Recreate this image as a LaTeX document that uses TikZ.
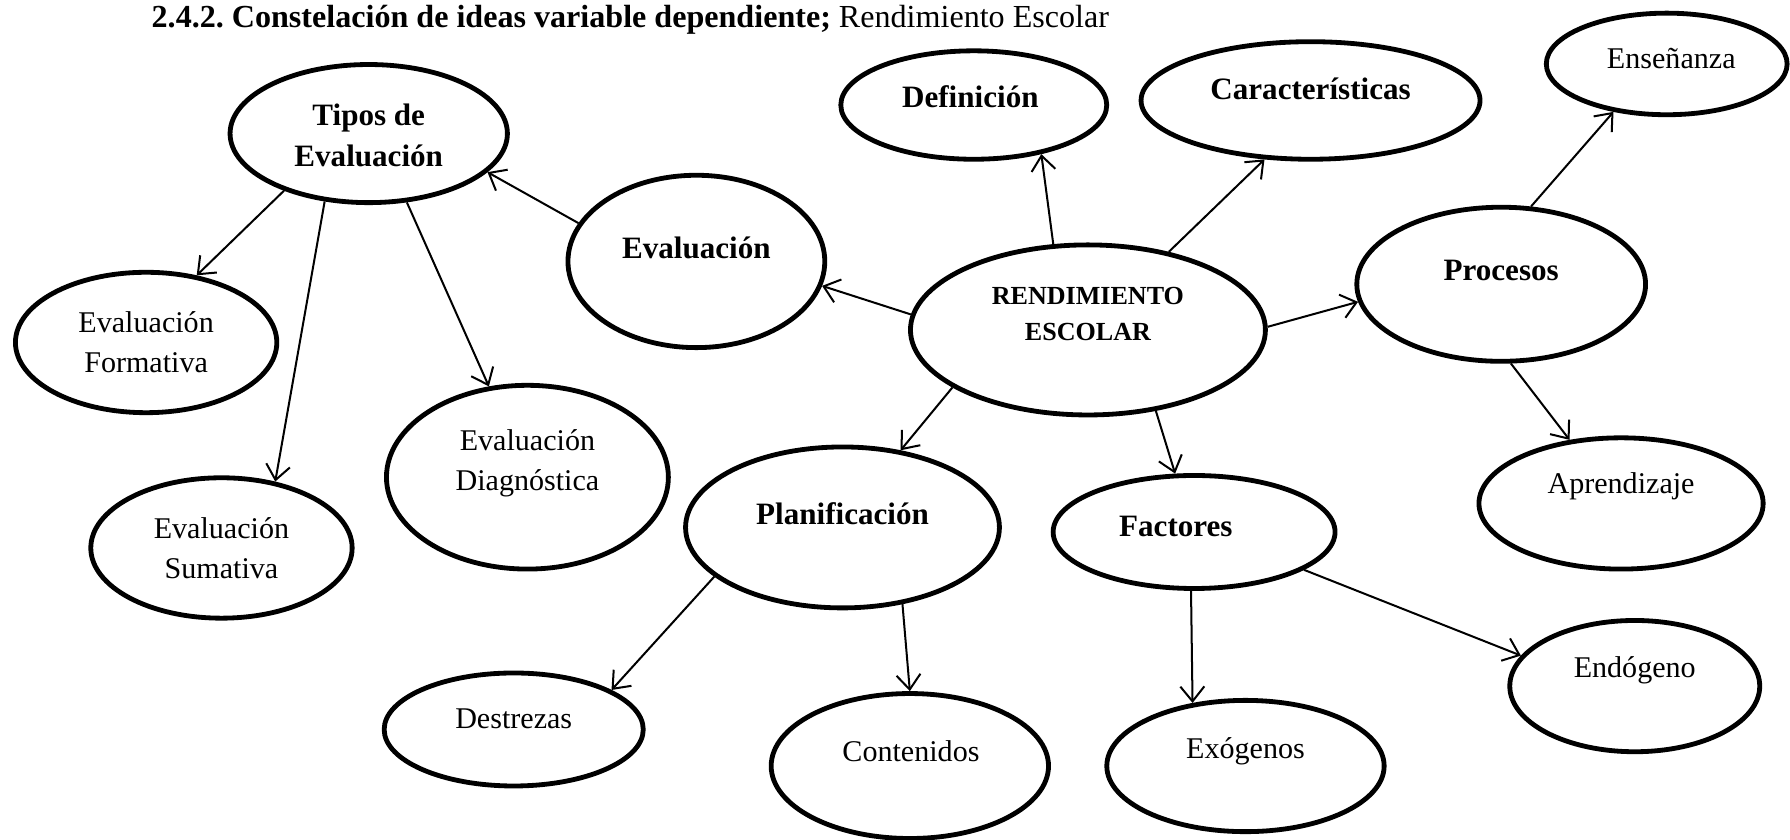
\documentclass[tikz,border=0pt]{standalone}
\usepackage{fontspec}
\setmainfont{Liberation Serif}
\usetikzlibrary{shapes.geometric, arrows.meta}
\frenchspacing

\begin{document}
\begin{tikzpicture}[> = {Straight Barb[length = 2.6mm, width = 4.2mm]}, x = 0.02cm, y = -0.02cm,
	idea/.style = {ellipse, draw, line width = 2.4pt, inner sep = 0pt},
	dims/.style 2 args = {minimum width = #1cm, minimum height = #2cm},
	bold-txt/.style = {font = \fontsize{15.5}{20.4}\selectfont\bfseries, align = center, inner sep = 0pt},
	plain-txt/.style = {font = \fontsize{15}{19.8}\selectfont, align = center, inner sep = 0pt},
	every path/.style = {line width = 1pt}]

	% Page size

	\useasboundingbox (0, 0) rectangle (1568, 735);

	% Title

	\node [anchor = west, inner sep = 0pt, font = \fontsize{16}{18}\selectfont] (title) at (132, 17)
		{\textbf{2.4.2. Constelación de ideas variable dependiente;} Rendimiento Escolar};

	% Ellipses

	\node [idea, dims = {4.86}{2.42}] (tipos) at (323, 117) {};
	\node [idea, dims = {4.50}{3.02}] (evaluacion) at (610, 229) {};
	\node [idea, dims = {4.66}{1.90}] (definicion) at (853, 92) {};
	\node [idea, dims = {5.94}{2.06}] (caract) at (1148, 88) {};
	\node [idea, dims = {4.22}{1.78}] (ensenanza) at (1460, 56) {};
	\node [idea, dims = {6.22}{2.98}] (rend) at (953, 289) {};
	\node [idea, dims = {5.06}{2.70}] (procesos) at (1315, 249) {};
	\node [idea, dims = {4.58}{2.46}] (ev-form) at (128, 300) {};
	\node [idea, dims = {4.58}{2.46}] (ev-sum) at (194, 480) {};
	\node [idea, dims = {4.94}{3.22}] (ev-diag) at (462, 418) {};
	\node [idea, dims = {5.50}{2.82}] (planif) at (738, 462) {};
	\node [idea, dims = {4.94}{1.98}] (factores) at (1046, 466) {};
	\node [idea, dims = {4.98}{2.30}] (aprendizaje) at (1420, 441) {};
	\node [idea, dims = {4.54}{1.98}] (destrezas) at (450, 639) {};
	\node [idea, dims = {4.86}{2.54}] (contenidos) at (797, 671) {};
	\node [idea, dims = {4.86}{2.30}] (exogenos) at (1091, 671) {};
	\node [idea, dims = {4.38}{2.30}] (endogeno) at (1432, 601) {};

	% Texts (set high in the ellipses)

	\node [bold-txt] (tipos-t) at (323, 119) {Tipos de\\Evaluación};
	\node [bold-txt] (evaluacion-t) at (610, 217) {Evaluación};
	\node [bold-txt] (definicion-t) at (850, 85) {Definición};
	\node [bold-txt] (caract-t) at (1148, 78) {Características};
	\node [plain-txt] (ensenanza-t) at (1464, 51) {Enseñanza};
	\node [bold-txt, font = \fontsize{13}{18}\selectfont\bfseries] (rend-t) at (953, 275) {RENDIMIENTO\\ESCOLAR};
	\node [bold-txt] (procesos-t) at (1315, 237) {Procesos};
	\node [plain-txt] (ev-form-t) at (128, 300) {Evaluación\\Formativa};
	\node [plain-txt] (ev-sum-t) at (194, 480) {Evaluación\\Sumativa};
	\node [plain-txt] (ev-diag-t) at (462, 406) {Evaluación\\Diagnóstica};
	\node [bold-txt] (planif-t) at (738, 450) {Planificación};
	\node [bold-txt] (factores-t) at (1030, 461) {Factores};
	\node [plain-txt] (aprendizaje-t) at (1420, 426) {Aprendizaje};
	\node [plain-txt] (destrezas-t) at (450, 630) {Destrezas};
	\node [plain-txt] (contenidos-t) at (798, 658) {Contenidos};
	\node [plain-txt] (exogenos-t) at (1091, 658) {Exógenos};
	\node [plain-txt] (endogeno-t) at (1432, 587) {Endógeno};

	% Arrows out of the centre

	\draw [->] (rend.175) -- (evaluacion.349);
	\draw [->] (rend.112) -- (definicion.324);
	\draw [->] (rend.44) -- (caract.232);
	\draw [->] (rend.1.5) -- (procesos.187);
	\draw [->] (rend.203) -- (planif.53);
	\draw [->] (rend.310) -- (factores.108);

	% Second level

	\draw [->] (evaluacion.162) -- (tipos.342);
	\draw [->] (tipos.214) -- (ev-form.53);
	\draw [->] (tipos.237) -- (ev-sum.51);
	\draw [->] (tipos.299) -- (ev-diag.113);
	\draw [->] (procesos.69) -- (ensenanza.222);
	\draw [->] (procesos.277) -- (aprendizaje.129);
	\draw [->] (planif.201) -- (destrezas.22);
	\draw [->] (planif.308) -- (contenidos.90);
	\draw [->] (factores.267) -- (exogenos.130);
	\draw [->] (factores.341) -- (endogeno.165);

\end{tikzpicture}
\end{document}
